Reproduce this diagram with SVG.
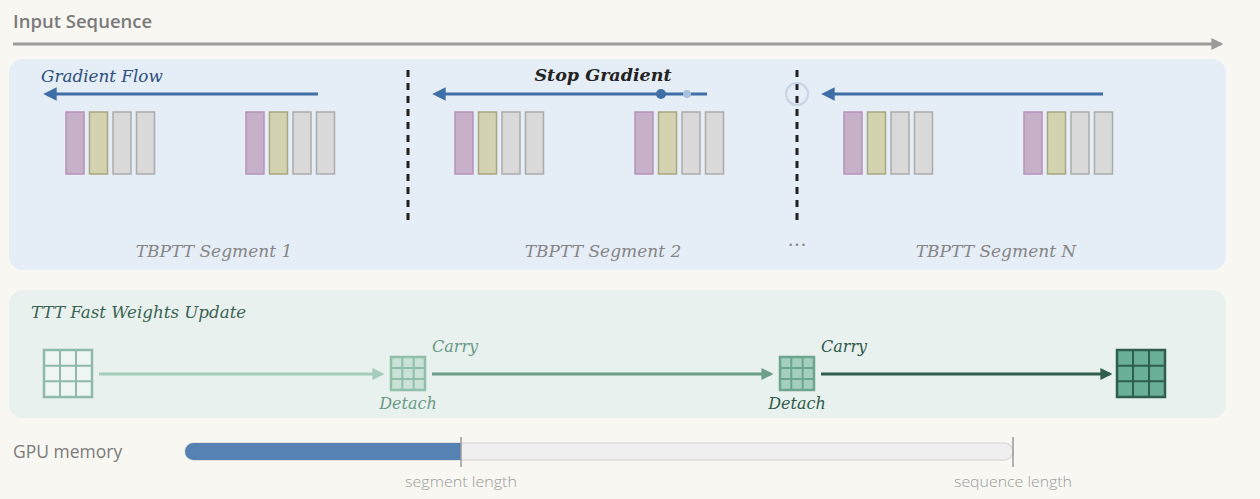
<svg xmlns="http://www.w3.org/2000/svg" width="1260" height="499" viewBox="0 0 1260 499">
<defs>
<style>
.serif{font-family:"DejaVu Serif","Liberation Serif",serif;font-style:italic}
.seg{font-size:17px;fill:#858585;text-anchor:middle}
.bp{fill:#c6b1c9;stroke:#b592b8;stroke-width:1.5}
.bo{fill:#d3d3b1;stroke:#a9a67f;stroke-width:1.5}
.bg{fill:#d9d9d9;stroke:#ababab;stroke-width:1.5}
.div{stroke:#222;stroke-width:3;stroke-dasharray:7 6}
.garr{stroke:#3f6fa6;stroke-width:3;fill:none}
.lbl{font-family:"Open Sans","DejaVu Sans",sans-serif;font-weight:300;font-size:15px;fill:#9a9a9a;text-anchor:middle}
</style>
<marker id="aBlue" viewBox="0 0 10 10" refX="2" refY="5" markerWidth="4.5" markerHeight="4.5" orient="auto"><path d="M0,5 L10,0 L10,10 Z" fill="#3f6fa6" transform="rotate(180 5 5)"/></marker>
<marker id="aGrey" viewBox="0 0 10 10" refX="8" refY="5" markerWidth="4" markerHeight="4" orient="auto"><path d="M0,0 L10,5 L0,10 Z" fill="#9a9a9a"/></marker>
<marker id="aG1" viewBox="0 0 10 10" refX="8" refY="5" markerWidth="4" markerHeight="4" orient="auto"><path d="M0,0 L10,5 L0,10 Z" fill="#a5cbbc"/></marker>
<marker id="aG2" viewBox="0 0 10 10" refX="8" refY="5" markerWidth="4" markerHeight="4" orient="auto"><path d="M0,0 L10,5 L0,10 Z" fill="#6b9f8a"/></marker>
<marker id="aG3" viewBox="0 0 10 10" refX="8" refY="5" markerWidth="4" markerHeight="4" orient="auto"><path d="M0,0 L10,5 L0,10 Z" fill="#2f5e4c"/></marker>
<g id="blocks">
<rect class="bp" x="0" y="0" width="18" height="62"/>
<rect class="bo" x="23.5" y="0" width="18" height="62"/>
<rect class="bg" x="47" y="0" width="18" height="62"/>
<rect class="bg" x="70.5" y="0" width="18" height="62"/>
</g>
</defs>
<rect width="1260" height="499" fill="#f9f7f2"/>

<g id="input-sequence">
<text x="13" y="28" font-family="Open Sans, DejaVu Sans, sans-serif" font-weight="600" font-size="18.5" fill="#7a7a7a">Input Sequence</text>
<line x1="13" y1="44" x2="1221" y2="44" stroke="#9a9a9a" stroke-width="3" marker-end="url(#aGrey)"/>
</g>

<g id="tbptt-panel">
<rect x="9" y="59" width="1217" height="211" rx="14" fill="#e5edf7"/>
<text class="serif" x="41" y="82" font-size="16.8" fill="#2d4f7f">Gradient Flow</text>
<text class="serif" x="603" y="81" font-size="17.5" font-weight="bold" fill="#222" text-anchor="middle">Stop Gradient</text>
</g>

<g id="segment-1">
<use href="#blocks" x="66" y="112"/>
<use href="#blocks" x="246" y="112"/>
<text class="serif seg" x="214" y="257">TBPTT Segment 1</text>
</g>
<g id="segment-2">
<use href="#blocks" x="455" y="112"/>
<use href="#blocks" x="635" y="112"/>
<text class="serif seg" x="603" y="257">TBPTT Segment 2</text>
</g>
<g id="segment-n">
<use href="#blocks" x="844" y="112"/>
<use href="#blocks" x="1024" y="112"/>
<text class="serif seg" x="996" y="257">TBPTT Segment N</text>
</g>
<text x="797" y="252" font-family="DejaVu Sans, sans-serif" font-size="20" fill="#8a8a8a" text-anchor="middle">···</text>

<g id="ttt-panel">
<rect x="9" y="290" width="1217" height="128" rx="14" fill="#e8f1ee"/>
<text class="serif" x="31" y="318" font-size="16.7" fill="#3a6352">TTT Fast Weights Update</text>
</g>

<g id="w0">
<rect x="44" y="350" width="48" height="47" fill="#eef5f2" stroke="#8fb9a8" stroke-width="2.5"/>
<path d="M60,350V397M76,350V397M44,365.7H92M44,381.3H92" stroke="#8fb9a8" stroke-width="2"/>
</g>
<g id="w1">
<rect x="391" y="357" width="34" height="33" fill="#c9e1d6" stroke="#8fbfa9" stroke-width="2.5"/>
<path d="M402.3,357V390M413.7,357V390M391,368H425M391,379H425" stroke="#8fbfa9" stroke-width="2"/>
<text class="serif" x="432" y="352" font-size="16" fill="#6a9a88">Carry</text>
<text class="serif" x="408" y="409" font-size="16" fill="#6a9a88" text-anchor="middle">Detach</text>
</g>
<g id="w2">
<rect x="780" y="357" width="34" height="33" fill="#a4cfbe" stroke="#6ba58e" stroke-width="2.5"/>
<path d="M791.3,357V390M802.7,357V390M780,368H814M780,379H814" stroke="#6ba58e" stroke-width="2"/>
<text class="serif" x="821" y="352" font-size="16" fill="#2f5a4a">Carry</text>
<text class="serif" x="797" y="409" font-size="16" fill="#2f5a4a" text-anchor="middle">Detach</text>
</g>
<g id="w3">
<rect x="1117" y="350" width="48" height="47" fill="#6aaf98" stroke="#2f5e4c" stroke-width="2.5"/>
<path d="M1133,350V397M1149,350V397M1117,365.7H1165M1117,381.3H1165" stroke="#2f5e4c" stroke-width="2"/>
</g>

<g id="connectors">
<line class="garr" x1="318" y1="94" x2="54" y2="94" marker-end="url(#aBlue)"/>
<line class="garr" x1="707" y1="94" x2="443" y2="94" marker-end="url(#aBlue)"/>
<circle cx="661" cy="94" r="5" fill="#3f6fa6"/>
<circle cx="687" cy="94" r="4" fill="#a9c1dd"/>
<line class="garr" x1="1103" y1="94" x2="832" y2="94" marker-end="url(#aBlue)"/>
<line class="div" x1="408" y1="70" x2="408" y2="226"/>
<line class="div" x1="797" y1="70" x2="797" y2="226"/>
<circle cx="797" cy="94" r="11" fill="none" stroke="#c7d4e3" stroke-width="2"/>
<line x1="99" y1="374" x2="382" y2="374" stroke="#a5cbbc" stroke-width="3" marker-end="url(#aG1)"/>
<line x1="432" y1="374" x2="771" y2="374" stroke="#6b9f8a" stroke-width="3" marker-end="url(#aG2)"/>
<line x1="821" y1="374" x2="1110" y2="374" stroke="#2f5e4c" stroke-width="3" marker-end="url(#aG3)"/>
</g>

<g id="gpu-memory">
<text x="13" y="458" font-family="Open Sans, DejaVu Sans, sans-serif" font-size="17.5" fill="#7a7a7a">GPU memory</text>
<rect x="185" y="443" width="828" height="17" rx="8.5" fill="#efefef" stroke="#dcdcdc" stroke-width="1.5"/>
<path d="M193.5,443H461V460H193.5A8.5,8.5 0 0 1 193.5,443Z" fill="#5682b3"/>
<line x1="461" y1="437" x2="461" y2="467" stroke="#999" stroke-width="1.5"/>
<line x1="1013" y1="437" x2="1013" y2="467" stroke="#999" stroke-width="1.5"/>
<text class="lbl" x="461" y="487" textLength="112" lengthAdjust="spacingAndGlyphs">segment length</text>
<text class="lbl" x="1013" y="487" textLength="118" lengthAdjust="spacingAndGlyphs">sequence length</text>
</g>
</svg>
